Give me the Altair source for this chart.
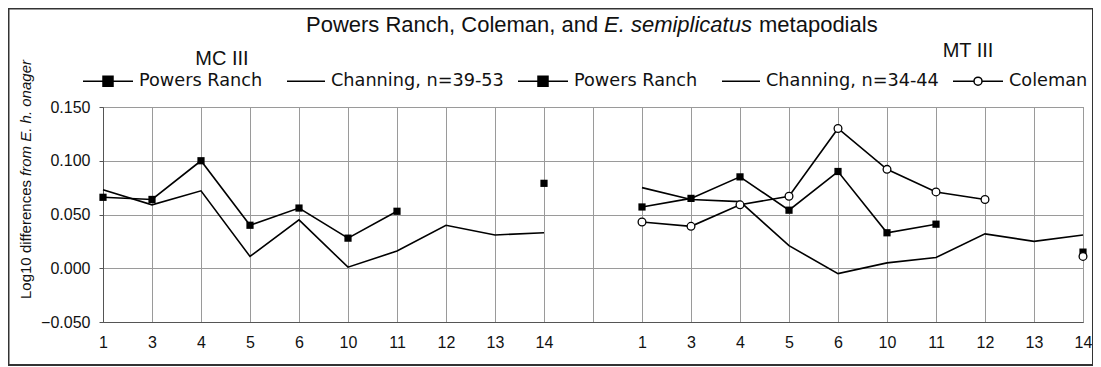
import altair as alt
import pandas as pd

# ---------------- data ----------------
bones = ["1", "3", "4", "5", "6", "10", "11", "12", "13", "14"]
mc_powers = [0.066, 0.064, 0.100, 0.040, 0.056, 0.028, 0.053, None, None, 0.079]
mc_channing = [0.073, 0.059, 0.072, 0.011, 0.045, 0.001, 0.016, 0.040, 0.031, 0.033]
mt_powers = [0.057, 0.065, 0.085, 0.054, 0.090, 0.033, 0.041, None, None, 0.015]
mt_channing = [0.075, 0.064, 0.062, 0.021, -0.005, 0.005, 0.010, 0.032, 0.025, 0.031]
mt_coleman = [0.043, 0.039, 0.059, 0.067, 0.130, 0.092, 0.071, 0.064, None, 0.011]

legend_labels = ["Powers Ranch", "Channing, n=39-53", "Powers Ranch",
                 "Channing, n=34-44", "Coleman"]
panel_titles = ["MC III", "MT III"]
title_parts = ["Powers Ranch, Coleman, and", "E. semiplicatus", "metapodials"]
y_title_parts = ["Log10 differences", "from E. h. onager"]
y_ticks = [-0.05, 0.0, 0.05, 0.10, 0.15]

FONT = "Liberation Sans"
LEGEND_FONT = "DejaVu Sans"
INK = "#111111"

legend_keys = [f"{i}|{lab}" for i, lab in enumerate(legend_labels)]
series = [
    ("MC", "powers", legend_keys[0], mc_powers),
    ("MC", "channing", legend_keys[1], mc_channing),
    ("MT", "powers", legend_keys[2], mt_powers),
    ("MT", "channing", legend_keys[3], mt_channing),
    ("MT", "coleman", legend_keys[4], mt_coleman),
]
x_domain = [f"MC|{b}" for b in bones] + ["gap|"] + [f"MT|{b}" for b in bones]

rows = []
for panel, kind, key, vals in series:
    for b, v in zip(bones, vals):
        pos = f"{panel}|{b}"
        rows.append({"pos": pos, "idx": x_domain.index(pos), "grp": f"{panel}-{kind}",
                     "kind": kind, "key": key, "value": v})
df = pd.DataFrame(rows)

# ---------------- encodings ----------------
x_enc = alt.X("pos:O",
              scale=alt.Scale(type="point", domain=x_domain, padding=0),
              axis=alt.Axis(title=None, labelExpr="split(datum.value, '|')[1]",
                            labelAngle=0, ticks=False, tickSize=0, labelPadding=12,
                            grid=True, gridColor="#9a9a9a", gridWidth=1,
                            domainColor="#555555", labelFont=FONT, labelFontSize=16,
                            labelColor=INK))
y_enc = alt.Y("value:Q",
              scale=alt.Scale(domain=[-0.05, 0.15], nice=False, zero=False),
              axis=alt.Axis(title=None, values=y_ticks, format=".3f",
                            tickSize=4, tickColor="#555555", labelPadding=9,
                            grid=True, gridColor="#9a9a9a", gridWidth=1,
                            domainColor="#555555", labelFont=FONT, labelFontSize=16,
                            labelColor=INK))

base = alt.Chart(df)

lines = base.mark_line(color="black", strokeWidth=1.6).encode(
    x=x_enc, y=y_enc, detail="grp:N", order="idx:Q")

squares = base.transform_filter(alt.datum.kind == "powers").mark_point(
    shape="square", filled=True, color="black", size=52, opacity=1).encode(x=x_enc, y=y_enc)

circles = base.transform_filter(alt.datum.kind == "coleman").mark_point(
    shape="circle", filled=True, fill="white", stroke="black", strokeWidth=1.3,
    size=60, opacity=1).encode(x=x_enc, y=y_enc)

# legend (built by Vega from an explicit scale domain)
legend_paths = [
    "M-1,0H1M-0.2,-0.2H0.2V0.2H-0.2Z",
    "M-0.52,0H1",
    "M-1,0H1M-0.2,-0.2H0.2V0.2H-0.2Z",
    "M-0.52,0H1",
    "M-1,0H-0.16M0.16,0H1M0.16,0A0.16,0.16,0,1,1,-0.16,0A0.16,0.16,0,1,1,0.16,0Z",
]
legend_fills = ["black", "transparent", "black", "transparent", "white"]
legend_strokes = ["black"] * 5
leg = alt.Legend(title=None, orient="none", legendX=-21, legendY=-52,
                 direction="horizontal", columns=5, symbolSize=2500,
                 symbolStrokeColor="black", symbolStrokeWidth=1.5, symbolOpacity=1,
                 labelFont=LEGEND_FONT, labelFontSize=17.7, labelColor=INK,
                 labelOffset=5, columnPadding=11, labelLimit=400, padding=0,
                 labelExpr="split(datum.value, '|')[1]")
legend_layer = base.transform_filter("false").mark_point(
    filled=False, stroke="black", strokeWidth=1.5, opacity=1).encode(
    x=x_enc, y=y_enc,
    shape=alt.Shape("key:N", scale=alt.Scale(domain=legend_keys, range=legend_paths), legend=leg),
    fill=alt.Fill("key:N", scale=alt.Scale(domain=legend_keys, range=legend_fills), legend=leg),
    stroke=alt.Stroke("key:N", scale=alt.Scale(domain=legend_keys, range=legend_strokes), legend=leg),
)


def text_layer(txt, x, y, size, align="left", italic=False, angle=0, baseline="alphabetic"):
    kw = dict(align=align, baseline=baseline, font=FONT, fontSize=size, color=INK)
    if italic:
        kw["fontStyle"] = "italic"
    if angle:
        kw["angle"] = angle
    return alt.Chart(pd.DataFrame({"t": [txt]})).mark_text(**kw).encode(
        text="t:N", x=alt.value(x), y=alt.value(y))


texts = [
    text_layer(title_parts[0], 203, -75, 22),
    text_layer(title_parts[1], 501, -75, 22, italic=True),
    text_layer(title_parts[2], 656, -75, 22),
    text_layer(panel_titles[0], 119, -42, 20, align="center"),
    text_layer(panel_titles[1], 865, -50, 20, align="center"),
    text_layer(y_title_parts[0], -72, 192, 15, align="left", angle=270),
    text_layer(y_title_parts[1], -72, -47, 15, align="right", angle=270, italic=True),
]

frame = alt.Chart(pd.DataFrame({"k": [0]})).mark_rect(
    fill="transparent", stroke="#333333", strokeWidth=2).encode(
    x=alt.value(-94.5), x2=alt.value(990), y=alt.value(-98.5), y2=alt.value(258))

chart = alt.layer(lines, squares, circles, legend_layer, *texts, frame).properties(
    width=980, height=215,
    autosize="none",
    padding={"left": 95, "top": 99, "right": 10, "bottom": 44},
    background="white",
).configure_view(stroke="#777777", strokeWidth=1)

chart.save("out.html", embed_options={"renderer": "svg", "actions": False})
